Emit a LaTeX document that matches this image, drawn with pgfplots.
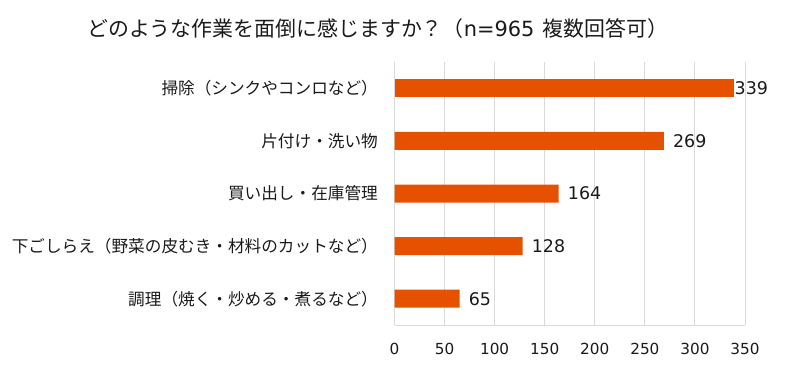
\documentclass[border=0pt]{standalone}
\usepackage{fontspec}
\setmainfont{Noto Sans CJK JP}
\newfontfamily\dejavu{DejaVu Sans}
\usepackage{pgfplots}
\pgfplotsset{compat=1.18}
\definecolor{barc}{HTML}{E65100}
\definecolor{gridc}{HTML}{D9D9D9}
\definecolor{txt}{HTML}{1A1A1A}
\begin{document}
\begin{tikzpicture}[x=1bp,y=1bp]
\useasboundingbox (0,0) rectangle (790,371);
\node[anchor=west, font=\fontsize{21}{24}\selectfont, inner sep=0pt, text=txt] at (87,342) {どのような作業を面倒に感じますか？（{\dejavu n=965}\hspace{8bp}複数回答可）};
\begin{axis}[
  at={(394.5bp,46bp)}, anchor=south west,
  scale only axis, width=350.5bp, height=263bp,
  xbar, bar width=18bp,
  xmin=0, xmax=350, ymin=-0.5, ymax=4.5,
  xtick={0,50,...,350},
  ytick={0,1,2,3,4},
  yticklabels={調理（焼く・炒める・煮るなど）, 下ごしらえ（野菜の皮むき・材料のカットなど）, 買い出し・在庫管理, 片付け・洗い物, 掃除（シンクやコンロなど）},
  xmajorgrids, major grid style={gridc, line width=1bp},
  axis x line=bottom, axis y line=left,
  axis line style={-, gridc, line width=1bp},
  major tick length=0pt,
  /pgf/number format/assume math mode=true,
  xticklabel style={font=\dejavu\fontsize{15.3}{18}\selectfont, text=txt, inner sep=0pt, yshift=-17.5bp},
  yticklabel style={font=\fontsize{16.7}{19}\selectfont, text=txt, inner sep=0pt, xshift=-16.5bp},
  nodes near coords,
  nodes near coords style={anchor=west, font=\dejavu\fontsize{17.5}{20}\selectfont, text=txt, inner sep=0pt},
]
\addplot[fill=barc, draw=none, bar shift=0pt, nodes near coords style={xshift=9bp}] coordinates {(65,0) (128,1) (164,2) (269,3)};
\addplot[fill=barc, draw=none, bar shift=0pt, nodes near coords style={xshift=0.5bp}] coordinates {(339,4)};
\end{axis}
\end{tikzpicture}
\end{document}
